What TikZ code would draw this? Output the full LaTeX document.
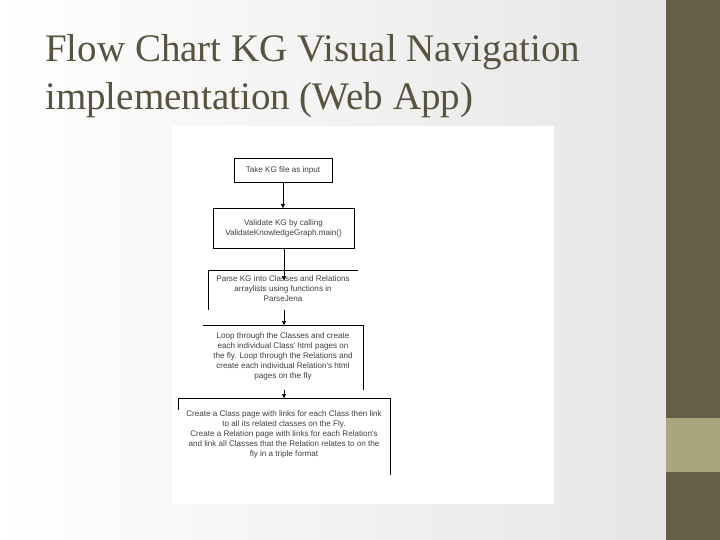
\documentclass[tikz,border=0pt]{standalone}
\usepackage{fontspec}
\setmainfont{Liberation Serif}
\newfontfamily\boxfont{Liberation Sans}
\usetikzlibrary{arrows.meta}
\definecolor{barD}{HTML}{665E48}
\definecolor{barL}{HTML}{A9A57E}
\definecolor{ttl}{HTML}{58533F}
\begin{document}
\begin{tikzpicture}[x=1pt,y=-1pt,
  txt/.style={font=\boxfont\fontsize{8.1}{10}\selectfont,align=center,text=black!75,inner sep=0pt},
  ln/.style={draw=black,line width=0.6pt},
  arr/.style={ln,-{Triangle[length=4pt,width=4pt]}}]
\useasboundingbox (0,0) rectangle (720,540);
\shade[left color=white,right color=black!10] (0,0) rectangle (666,540);
\fill[barD] (666,0) rectangle (720,540);
\fill[barL] (666,418) rectangle (720,472);
\node[anchor=base west,text=ttl,font=\fontsize{39}{46}\selectfont,inner sep=0pt] (t1) at (45,62) {Flow Chart KG Visual Navigation};
\node[anchor=base west,text=ttl,font=\fontsize{39}{46}\selectfont,inner sep=0pt] (t2) at (45,110) {implementation (Web App)};
\fill[white] (172,126) rectangle (554,504);
% box 1
\draw[ln] (234,158) rectangle (332,182);
\node[txt] (b1) at (283,170) {Take KG file as input};
% box 2
\draw[ln] (213,208) rectangle (354,248);
\node[txt] (b2) at (283.5,228) {Validate KG by calling\\ ValidateKnowledgeGraph.main()};
% box 3
\draw[ln] (208,310) -- (208,270) -- (358,270);
\node[txt] (b3) at (283,289) {Parse KG into Classes and Relations\\ arraylists using functions in\\ ParseJena};
% box 4
\draw[ln] (203,325) -- (363,325) -- (363,390);
\node[txt] (b4) at (283,356) {Loop through the Classes and create\\ each individual Class' html pages on\\ the fly. Loop through the Relations and\\ create each individual Relation's html\\ pages on the fly};
% box 5
\draw[ln] (178,410) -- (178,398) -- (390,398) -- (390,475);
\node[txt] (b5) at (284,434) {Create a Class page with links for each Class then link\\ to all its related classes on the Fly.\\ Create a Relation page with links for each Relation's\\ and link all Classes that the Relation relates to on the\\ fly in a triple format};
\coordinate (a1) at (283,182); \coordinate (a1e) at (283,208);
\coordinate (a2) at (284,248); \coordinate (a2e) at (284,280);
\coordinate (a3) at (284,310); \coordinate (a3e) at (284,325);
\coordinate (a4) at (284,390); \coordinate (a4e) at (284,398);
\draw[arr] (a1) -- (a1e);
\draw[arr] (a2) -- (a2e);
\draw[arr] (a3) -- (a3e);
\draw[arr] (a4) -- (a4e);
\end{tikzpicture}
\end{document}
